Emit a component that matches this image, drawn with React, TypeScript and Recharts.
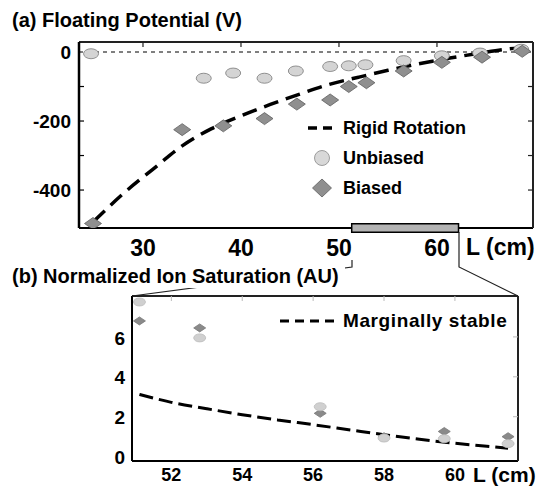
import React from "react";
import {
  ComposedChart,
  Line,
  Scatter,
  XAxis,
  YAxis,
  ReferenceLine,
  ReferenceArea,
} from "recharts";

// (a) floating potential, L in cm, V in volts
const rigidL = [25, 28, 31, 34, 37, 40, 43, 46, 49, 52, 55, 58, 61, 64, 67, 68.5];
const rigidV = [-490, -410, -340, -272, -222, -185, -152, -122, -94, -73, -53, -35, -19, -5, 8, 12];
const unbiasedL = [24.7, 36.2, 39.2, 42.4, 45.6, 49.1, 51.0, 52.7, 56.6, 60.5, 64.4, 68.6];
const unbiasedV = [-5, -76, -61, -76, -55, -42, -40, -37, -25, -11, -3, 8];
const biasedL = [24.9, 34.0, 38.2, 42.4, 45.7, 49.1, 51.0, 52.8, 56.6, 60.5, 64.6, 68.7];
const biasedV = [-497, -225, -214, -193, -151, -139, -100, -89, -55, -30, -15, 2];
const topXTicks = [30, 40, 50, 60];
const topYTicks = [-400, -300, -200, -100, 0];

// (b) normalized ion saturation, zoom of L = 51..62
const ionL = [51.1, 52.8, 56.2, 58.0, 59.7, 61.5];
const ionUnbiased = [7.75, 5.95, 2.5, 0.93, 0.9, 0.65];
const ionBiased = [6.8, 6.45, 2.17, 1.0, 1.26, 1.0];
const stableL = [51.1, 52, 53, 54, 55, 56, 57, 58, 59, 60, 61, 61.5];
const stableV = [3.12, 2.72, 2.4, 2.1, 1.84, 1.6, 1.35, 1.1, 0.87, 0.67, 0.5, 0.42];
const botXTicks = [52, 54, 56, 58, 60];
const botYTicks = [0, 2, 4, 6];

const FONT = '"Liberation Sans", Arial, Helvetica, sans-serif';

const rigidData = rigidL.map((L, i) => ({ L, V: rigidV[i] }));
const unbiasedData = unbiasedL.map((L, i) => ({ L, V: unbiasedV[i] }));
const biasedData = biasedL.map((L, i) => ({ L, V: biasedV[i] }));
const ionUnbiasedData = ionL.map((L, i) => ({ L, V: ionUnbiased[i] }));
const ionBiasedData = ionL.map((L, i) => ({ L, V: ionBiased[i] }));
const stableData = stableL.map((L, i) => ({ L, V: stableV[i] }));

const txt = { fontFamily: FONT, fontWeight: "bold" as const, fill: "#000" };

const Ellipse = (rx: number, ry: number, fill: string, stroke: string) => (p: any) => (
  <ellipse cx={p.cx} cy={p.cy} rx={rx} ry={ry} fill={fill} stroke={stroke} strokeWidth={0.8} />
);
const Diamond = (hw: number, hh: number, fill: string, stroke: string) => (p: any) => (
  <polygon
    points={`${p.cx},${p.cy - hh} ${p.cx + hw},${p.cy} ${p.cx},${p.cy + hh} ${p.cx - hw},${p.cy}`}
    fill={fill}
    stroke={stroke}
    strokeWidth={0.8}
  />
);

// top chart ticks
const ALeftTick = ({ x, y, payload }: any) => {
  const v = payload.value;
  return (
    <g>
      {v !== 0 && <line x1={x} x2={x + 5} y1={y} y2={y} stroke="#000" strokeWidth={1.2} />}
      {v % 200 === 0 && (
        <text x={x - 8} y={y} dy="0.35em" textAnchor="end" fontSize={19} {...txt}>
          {v}
        </text>
      )}
    </g>
  );
};
const ARightTick = ({ x, y, payload }: any) =>
  payload.value === 0 ? <g /> : <line x1={x - 5} x2={x} y1={y} y2={y} stroke="#222" strokeWidth={1.2} />;
const ATopTick = ({ x, y }: any) => <line x1={x} x2={x} y1={y} y2={y + 5} stroke="#222" strokeWidth={1.2} />;
const ABottomTick = ({ x, y, payload }: any) => (
  <text x={x} y={y + 19.5} dy="0.35em" textAnchor="middle" fontSize={23} {...txt}>
    {payload.value}
  </text>
);

// bottom chart ticks
const BLeftTick = ({ x, y, payload }: any) => (
  <text x={x - 7} y={y + 1} dy="0.35em" textAnchor="end" fontSize={19} {...txt}>
    {payload.value}
  </text>
);
const BRightTick = ({ x, y, payload }: any) =>
  payload.value === 0 ? <g /> : <line x1={x - 5} x2={x} y1={y} y2={y} stroke="#bbb" strokeWidth={1} />;
const BTopTick = ({ x, y }: any) => <line x1={x} x2={x} y1={y} y2={y + 5} stroke="#bbb" strokeWidth={1} />;
const BBottomTick = ({ x, y, payload }: any) => (
  <text x={x} y={y + 13.5} dy="0.35em" textAnchor="middle" fontSize={18} {...txt}>
    {payload.value}
  </text>
);

const abs = (left: number, top: number, extra: React.CSSProperties = {}): React.CSSProperties => ({
  position: "absolute",
  left,
  top,
  ...extra,
});

export default function App() {
  return (
    <div style={abs(0, 0, { width: 543, height: 489, background: "#fff", overflow: "hidden" })}>
      <div style={abs(0, 0)}>
        <ComposedChart width={543} height={260} margin={{ top: 0, right: 0, bottom: 2, left: 0 }}>
          <XAxis
            xAxisId="top"
            orientation="top"
            type="number"
            dataKey="L"
            domain={[23.47, 69.8]}
            allowDataOverflow
            ticks={topXTicks}
            height={42}
            tickSize={0}
            tickMargin={0}
            tickLine={false}
            tick={<ATopTick />}
            axisLine={{ stroke: "#222", strokeWidth: 2 }}
          />
          <XAxis
            type="number"
            dataKey="L"
            domain={[23.47, 69.8]}
            allowDataOverflow
            ticks={topXTicks}
            height={30}
            tickSize={0}
            tickMargin={0}
            tickLine={false}
            tick={<ABottomTick />}
            axisLine={{ stroke: "#000", strokeWidth: 2 }}
          />
          <YAxis
            type="number"
            dataKey="V"
            domain={[-510, 29]}
            allowDataOverflow
            ticks={topYTicks}
            width={79}
            tickSize={0}
            tickMargin={0}
            tickLine={false}
            tick={<ALeftTick />}
            axisLine={{ stroke: "#000", strokeWidth: 2.5 }}
          />
          <YAxis
            yAxisId="r"
            orientation="right"
            type="number"
            dataKey="V"
            domain={[-510, 29]}
            allowDataOverflow
            ticks={topYTicks}
            width={10}
            tickSize={0}
            tickMargin={0}
            tickLine={false}
            tick={<ARightTick />}
            axisLine={{ stroke: "#222", strokeWidth: 2 }}
          />
          <ReferenceLine y={0} stroke="#000" strokeWidth={1} strokeDasharray="4 4" />
          <Scatter data={unbiasedData} dataKey="V" isAnimationActive={false} shape={Ellipse(7.5, 5, "#d4d4d4", "#7a7a7a")} />
          <Scatter data={biasedData} dataKey="V" isAnimationActive={false} shape={Diamond(8.5, 6, "#8f8f8f", "#5e5e5e")} />
          <Line
            data={rigidData}
            dataKey="V"
            type="monotone"
            stroke="#000"
            strokeWidth={3.5}
            strokeDasharray="15 8"
            dot={false}
            activeDot={false}
            isAnimationActive={false}
          />
          <ReferenceArea
            x1={51.3}
            x2={62.2}
            y1={-498}
            y2={-522}
            ifOverflow="visible"
            fill="#b3b3b3"
            fillOpacity={1}
            stroke="#000"
            strokeWidth={1.5}
            zIndex={2000}
          />
        </ComposedChart>
      </div>

      <div style={abs(0, 260)}>
        <ComposedChart width={543} height={229} margin={{ top: 0, right: 0, bottom: 0, left: 0 }}>
          <XAxis
            xAxisId="top"
            orientation="top"
            type="number"
            dataKey="L"
            domain={[50.89, 61.78]}
            allowDataOverflow
            ticks={botXTicks}
            height={36}
            tickSize={0}
            tickMargin={0}
            tickLine={false}
            tick={<BTopTick />}
            axisLine={{ stroke: "#222", strokeWidth: 2 }}
          />
          <XAxis
            type="number"
            dataKey="L"
            domain={[50.89, 61.78]}
            allowDataOverflow
            ticks={botXTicks}
            height={28}
            tickSize={0}
            tickMargin={0}
            tickLine={false}
            tick={<BBottomTick />}
            axisLine={{ stroke: "#000", strokeWidth: 2 }}
          />
          <YAxis
            type="number"
            dataKey="V"
            domain={[-0.22, 8.05]}
            allowDataOverflow
            ticks={botYTicks}
            width={132}
            tickSize={0}
            tickMargin={0}
            tickLine={false}
            tick={<BLeftTick />}
            axisLine={{ stroke: "#000", strokeWidth: 2 }}
          />
          <YAxis
            yAxisId="r"
            orientation="right"
            type="number"
            dataKey="V"
            domain={[-0.22, 8.05]}
            allowDataOverflow
            ticks={botYTicks}
            width={25}
            tickSize={0}
            tickMargin={0}
            tickLine={false}
            tick={<BRightTick />}
            axisLine={{ stroke: "#222", strokeWidth: 2 }}
          />
          <Line
            data={stableData}
            dataKey="V"
            type="monotone"
            stroke="#000"
            strokeWidth={3}
            strokeDasharray="14 6"
            dot={false}
            activeDot={false}
            isAnimationActive={false}
          />
          <Scatter data={ionBiasedData} dataKey="V" isAnimationActive={false} shape={Diamond(6, 4, "#8a8a8a", "#777")} />
          <Scatter data={ionUnbiasedData} dataKey="V" isAnimationActive={false} shape={Ellipse(6, 4, "#d0d0d0", "#bbb")} />
        </ComposedChart>
      </div>

      {/* zoom connector */}
      <svg width={543} height={489} style={abs(0, 0, { pointerEvents: "none" })}>
        <polyline points="352,260 352,267 132,296" fill="none" stroke="#222" strokeWidth={1.2} />
        <polyline points="459,232 459,267 518,296" fill="none" stroke="#222" strokeWidth={1.2} />
      </svg>

      <div style={abs(12, 8, { fontFamily: FONT, fontWeight: "bold", fontSize: 20, lineHeight: "24px", whiteSpace: "nowrap" })}>
        (a) Floating Potential (V)
      </div>
      <div
        style={abs(12, 264, {
          fontFamily: FONT,
          fontWeight: "bold",
          fontSize: 20,
          lineHeight: "24px",
          width: 333,
          background: "#fff",
          whiteSpace: "nowrap",
        })}
      >
        (b) Normalized Ion Saturation (AU)
      </div>
      <div style={abs(466, 234, { fontFamily: FONT, fontWeight: "bold", fontSize: 23, lineHeight: "27px", whiteSpace: "nowrap" })}>
        L (cm)
      </div>
      <div style={abs(473, 462, { fontFamily: FONT, fontWeight: "bold", fontSize: 21, lineHeight: "25px", whiteSpace: "nowrap" })}>
        L (cm)
      </div>

      {/* legends */}
      <svg width={220} height={95} style={abs(300, 110)}>
        <line x1={8} x2={32} y1={18} y2={18} stroke="#000" strokeWidth={3.5} strokeDasharray="9 6" />
        <circle cx={22} cy={48} r={7.5} fill="#d8d8d8" stroke="#888" strokeWidth={0.8} />
        <polygon points="22,69 31.5,78 22,87 12.5,78" fill="#8f8f8f" stroke="#5e5e5e" strokeWidth={0.8} />
        <text x={43} y={18} dy="0.35em" fontSize={18} {...txt}>Rigid Rotation</text>
        <text x={43} y={48} dy="0.35em" fontSize={18} {...txt}>Unbiased</text>
        <text x={43} y={78} dy="0.35em" fontSize={18} {...txt}>Biased</text>
      </svg>
      <svg width={240} height={30} style={abs(275, 306)}>
        <line x1={5} x2={60} y1={15} y2={15} stroke="#000" strokeWidth={3} strokeDasharray="9 6" />
        <text x={68} y={14} dy="0.35em" fontSize={19} letterSpacing={0.6} {...txt}>Marginally stable</text>
      </svg>
    </div>
  );
}
